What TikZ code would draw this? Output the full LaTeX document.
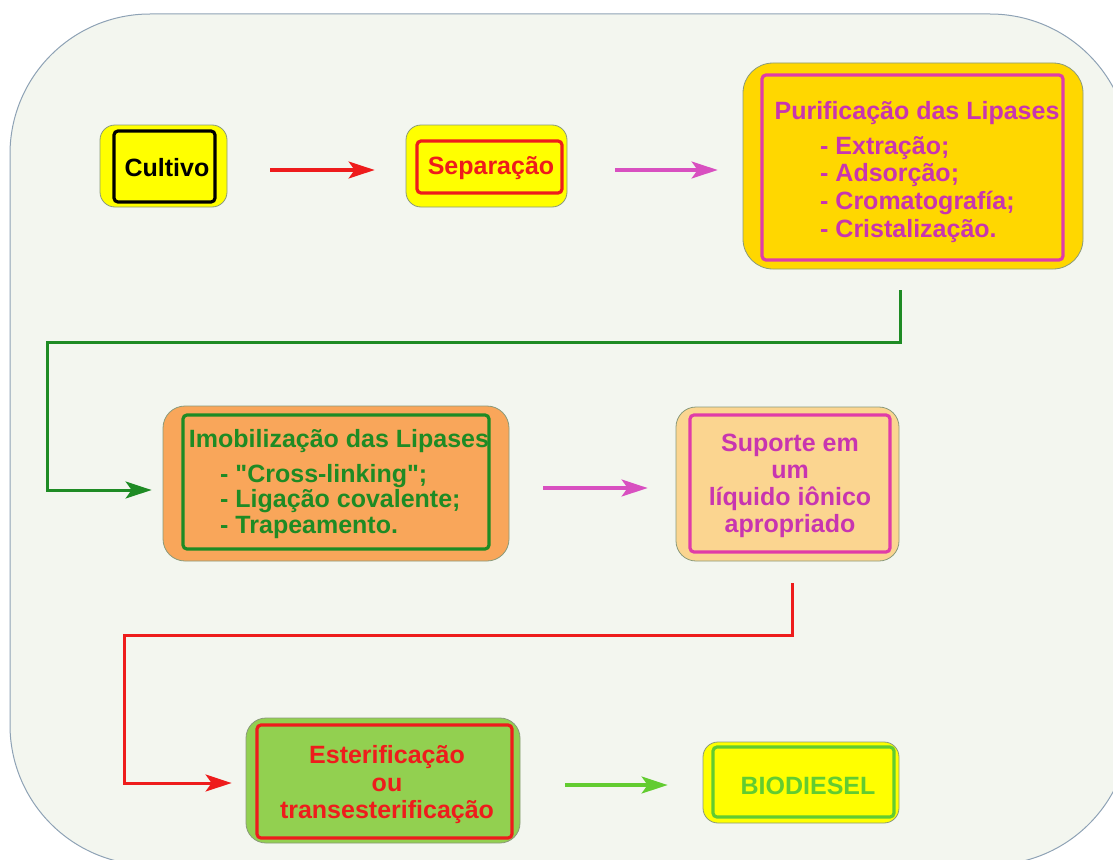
\documentclass[tikz,border=0pt]{standalone}
\usepackage{fontspec}
\setmainfont{Liberation Sans}
\usetikzlibrary{arrows.meta,calc}
\definecolor{bgfill}{HTML}{F3F6EF}
\definecolor{bgline}{HTML}{8EA2B5}
\definecolor{boxline}{HTML}{8A9A7A}
\definecolor{yel}{HTML}{FFFF00}
\definecolor{gold}{HTML}{FFD700}
\definecolor{orng}{HTML}{F9A65A}
\definecolor{lorng}{HTML}{FBD590}
\definecolor{lime}{HTML}{92D050}
\definecolor{bgreen}{HTML}{62CC30}
\definecolor{magtext}{HTML}{C835B0}
\definecolor{magline}{HTML}{E03CA8}
\definecolor{magarrow}{HTML}{D850C0}
\definecolor{dgreen}{HTML}{1E8B24}
\definecolor{rred}{HTML}{EE1C1C}
\tikzset{
  outerbox/.style={draw=boxline, line width=0.8pt, rounded corners=15pt, inner sep=0pt},
  innerbox/.style={line width=3.2pt, rounded corners=4pt, inner sep=0pt},
  txt/.style={font=\fontsize{25}{28}\selectfont\bfseries, inner sep=0pt},
  conn/.style={line width=3.2pt, -{Stealth[length=26pt,width=17pt,inset=6pt]}},
  elbow/.style={line width=3pt, -{Stealth[length=26pt,width=17pt,inset=6pt]}}
}
\begin{document}
\begin{tikzpicture}[x=1pt,y=-1pt]
\useasboundingbox (0,0) rectangle (1113,859);
\begin{scope}
\clip (0,0) rectangle (1113,859);
\draw[fill=bgfill, draw=bgline, line width=1pt, rounded corners=140pt] (10,14) rectangle (1130,865);
\end{scope}

% Cultivo
\node[outerbox, fill=yel, minimum width=127pt, minimum height=82pt] (cult) at (163.5,166) {};
\node[innerbox, draw=black, minimum width=101pt, minimum height=71pt] (culti) at (164.5,166.5) {};
\node[txt, text=black] (cultt) at (167,168) {Cultivo};

% Separacao
\node[outerbox, fill=yel, minimum width=161pt, minimum height=82pt] (sep) at (486.5,166) {};
\node[innerbox, draw=rred, minimum width=145pt, minimum height=52pt] (sepi) at (489.5,167) {};
\node[txt, text=rred] (sept) at (491,168) {Separação};

% Purificacao
\node[outerbox, fill=gold, minimum width=340pt, minimum height=206pt, rounded corners=30pt] (pur) at (913,166) {};
\node[innerbox, draw=magline, minimum width=301pt, minimum height=185pt] (puri) at (912.5,167.5) {};
\node[txt, text=magtext] (purt) at (917,113) {Purificação das Lipases};
\node[txt, text=magtext, anchor=west] (pur1) at (820,148) {- Extração;};
\node[txt, text=magtext, anchor=west] (pur2) at (820,175) {- Adsorção;};
\node[txt, text=magtext, anchor=west] (pur3) at (820,203) {- Cromatografía;};
\node[txt, text=magtext, anchor=west] (pur4) at (820,231) {- Cristalização.};

% Imobilizacao
\node[outerbox, fill=orng, minimum width=346pt, minimum height=155pt, rounded corners=22pt] (imob) at (336,483.5) {};
\node[innerbox, draw=dgreen, minimum width=306pt, minimum height=134pt] (imobi) at (336,482) {};
\node[txt, text=dgreen] (imobt) at (339,441) {Imobilização das Lipases};
\node[txt, text=dgreen, anchor=west] (imob1) at (220,476) {- \textquotedbl Cross-linking\textquotedbl;};
\node[txt, text=dgreen, anchor=west] (imob2) at (220,501) {- Ligação covalente;};
\node[txt, text=dgreen, anchor=west] (imob3) at (220,527) {- Trapeamento.};

% Suporte
\node[outerbox, fill=lorng, minimum width=223pt, minimum height=154pt, rounded corners=20pt] (sup) at (787.5,484) {};
\node[innerbox, draw=magline, minimum width=200pt, minimum height=137pt] (supi) at (790,483.5) {};
\node[txt, text=magtext, align=center, font=\fontsize{25}{27}\selectfont\bfseries] (supt) at (790,486) {Suporte em\\um\\líquido iônico\\apropriado};

% Esterificacao
\node[outerbox, fill=lime, minimum width=274pt, minimum height=125pt, rounded corners=20pt] (est) at (383,780.5) {};
\node[innerbox, draw=rred, minimum width=255pt, minimum height=113pt] (esti) at (384.5,781.5) {};
\node[txt, text=rred, align=center, font=\fontsize{25}{27.5}\selectfont\bfseries] (estt) at (387,785) {Esterificação\\ou\\transesterificação};

% Biodiesel
\node[outerbox, fill=yel, minimum width=196pt, minimum height=81pt] (bio) at (801,782.5) {};
\node[innerbox, draw=bgreen, minimum width=181pt, minimum height=70pt] (bioi) at (803.5,782) {};
\node[txt, text=bgreen] (biot) at (808,786) {BIODIESEL};

% connectors
\draw[conn, rred, shorten <=43pt, shorten >=31pt] (cult.east |- 0,170) -- (sep.west |- 0,170);
\draw[conn, magarrow, shorten <=48pt, shorten >=25pt] (sep.east |- 0,170) -- (pur.west |- 0,170);
\draw[conn, magarrow, shorten <=34pt, shorten >=28pt] (imob.east |- 0,488) -- (sup.west |- 0,488);
\draw[conn, bgreen, shorten <=45pt, shorten >=35pt] (est.east |- 0,785) -- (bio.west |- 0,785);

\coordinate (g1) at (47,342);
\coordinate (g0) at ($(pur.south)+(-13,21)$);
\draw[elbow, dgreen, shorten >=11pt] (g0) |- (g1) |- ($(imob.west)+(0,6.5)$);
\coordinate (r1) at (124,635);
\coordinate (r0) at ($(sup.south)+(4.5,22)$);
\draw[elbow, rred, shorten >=14pt] (r0) |- (r1) |- ($(est.west)+(0,2.5)$);
\end{tikzpicture}
\end{document}
